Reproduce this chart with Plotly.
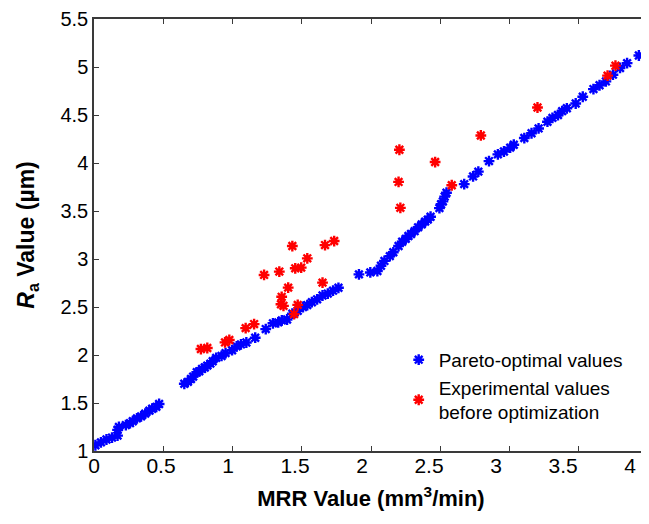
import plotly.graph_objects as go

# Pareto-optimal front
pareto_mrr = [0.01, 0.05, 0.09, 0.13, 0.17, 0.17, 0.18, 0.23, 0.26, 0.28, 0.31, 0.34, 0.37, 0.40, 0.42, 0.45, 0.47,
              0.652, 0.678, 0.70, 0.716, 0.742, 0.76, 0.78, 0.80, 0.818, 0.84, 0.857, 0.882, 0.921, 0.95, 0.997,
              1.03, 1.061, 1.10, 1.164, 1.24, 1.292, 1.33, 1.356, 1.394, 1.432, 1.471, 1.509, 1.54, 1.573, 1.611,
              1.65, 1.688, 1.726, 1.765,
              1.913, 1.995, 2.046, 2.072, 2.097, 2.136, 2.161, 2.199, 2.225, 2.251, 2.27, 2.289, 2.315, 2.34, 2.366,
              2.391, 2.41, 2.43, 2.494, 2.506, 2.519, 2.532, 2.545, 2.673, 2.737, 2.775, 2.852, 2.916, 2.96, 3.005,
              3.031, 3.107, 3.159, 3.21, 3.274, 3.31, 3.35, 3.38, 3.414, 3.478, 3.529, 3.606, 3.65, 3.696, 3.747,
              3.798, 3.849, 3.934]
pareto_ra = [1.06, 1.09, 1.12, 1.14, 1.16, 1.22, 1.25, 1.27, 1.29, 1.31, 1.34, 1.36, 1.39, 1.42, 1.44, 1.46, 1.49,
             1.70, 1.72, 1.75, 1.775, 1.82, 1.83, 1.855, 1.87, 1.89, 1.91, 1.935, 1.97, 1.99, 2.02, 2.05,
             2.09, 2.11, 2.13, 2.18, 2.27, 2.33, 2.34, 2.36, 2.37, 2.43, 2.46, 2.50, 2.52, 2.55, 2.58,
             2.62, 2.64, 2.67, 2.70,
             2.84, 2.86, 2.875, 2.93, 2.98, 3.03, 3.07, 3.135, 3.18, 3.21, 3.24, 3.26, 3.29, 3.33, 3.36,
             3.39, 3.41, 3.44, 3.53, 3.57, 3.60, 3.65, 3.69, 3.78, 3.86, 3.91, 4.02, 4.09, 4.12, 4.16,
             4.19, 4.26, 4.31, 4.36, 4.43, 4.47, 4.50, 4.54, 4.57, 4.62, 4.69, 4.77, 4.81, 4.85, 4.92,
             4.99, 5.04, 5.12]

# experimental values before optimization
exp_mrr = [0.772, 0.818, 0.946, 0.977, 1.095, 1.156, 1.228, 1.338, 1.432, 1.402, 1.355, 1.35, 1.368, 1.453, 1.496,
           1.54, 1.471, 1.445, 1.668, 1.734, 1.65, 2.205, 2.199, 2.212, 2.463, 2.583, 2.793, 3.202, 3.708, 3.765]
exp_ra = [2.062, 2.073, 2.131, 2.156, 2.28, 2.322, 2.834, 2.869, 3.135, 2.702, 2.606, 2.529, 2.512, 2.903, 2.91,
          3.007, 2.522, 2.426, 3.145, 3.187, 2.754, 4.138, 3.803, 3.533, 4.01, 3.768, 4.287, 4.578, 4.91, 5.014]

x_ticks = [0, 0.5, 1, 1.5, 2, 2.5, 3, 3.5, 4]
y_ticks = [1, 1.5, 2, 2.5, 3, 3.5, 4, 4.5, 5, 5.5]

font = "Liberation Sans, Arial, sans-serif"
frame = "#3a3a3a"

fig = go.Figure()
fig.add_trace(go.Scatter(x=pareto_mrr, y=pareto_ra, mode="markers", name="Pareto-optimal values",
                         marker=dict(symbol="asterisk-open", size=9, color="#0000ff",
                                     line=dict(color="#0000ff", width=2.4))))
fig.add_trace(go.Scatter(x=exp_mrr, y=exp_ra, mode="markers", name="Experimental values<br>before optimization",
                         marker=dict(symbol="asterisk-open", size=9, color="#ff0000",
                                     line=dict(color="#ff0000", width=2.4))))
# empty trace so the label axis gets drawn
fig.add_trace(go.Scatter(x=[], y=[], xaxis="x2", showlegend=False, hoverinfo="skip"))

# page body has an 8px margin, so the figure is a little smaller than the window
fig.update_layout(
    width=641, height=517,
    margin=dict(l=86, r=1, t=11, b=74, autoexpand=False),
    paper_bgcolor="white", plot_bgcolor="white",
    font=dict(family=font, color="black"),
    showlegend=True,
    legend=dict(x=0.55, y=0.255, xanchor="left", yanchor="top", bgcolor="rgba(255,255,255,0)",
                font=dict(size=19), itemwidth=30, tracegroupgap=4),
    xaxis=dict(range=[0, 4], tickvals=x_ticks, showticklabels=False, ticks="inside", ticklen=5,
               tickcolor=frame, showline=True, linecolor=frame, linewidth=1.5, mirror="ticks",
               showgrid=False, zeroline=False, automargin=False),
    # label axis: the reference's tick labels sit slightly compressed against the tick marks
    xaxis2=dict(range=[0, 4.134], tickvals=x_ticks, ticktext=[f"{v:g}" for v in x_ticks],
                overlaying="x", side="bottom", anchor="y", ticks="", showline=False, showgrid=False,
                zeroline=False, tickfont=dict(size=21), automargin=False, ticklabeloverflow="allow",
                title=dict(text="<b>MRR Value (mm<sup>3</sup>/min)</b>", font=dict(size=22), standoff=14)),
    yaxis=dict(range=[1, 5.5], tickvals=y_ticks, ticktext=[f"{v:g}" for v in y_ticks], ticks="inside",
               ticklen=5, tickcolor=frame, showline=True, linecolor=frame, linewidth=1.5, mirror="ticks",
               showgrid=False, zeroline=False, tickfont=dict(size=20), automargin=False,
               ticklabeloverflow="allow",
               title=dict(text="<b><i>R</i><sub>a</sub> Value (µm)</b>", font=dict(size=23), standoff=19)),
)

fig.write_html("out.html")
